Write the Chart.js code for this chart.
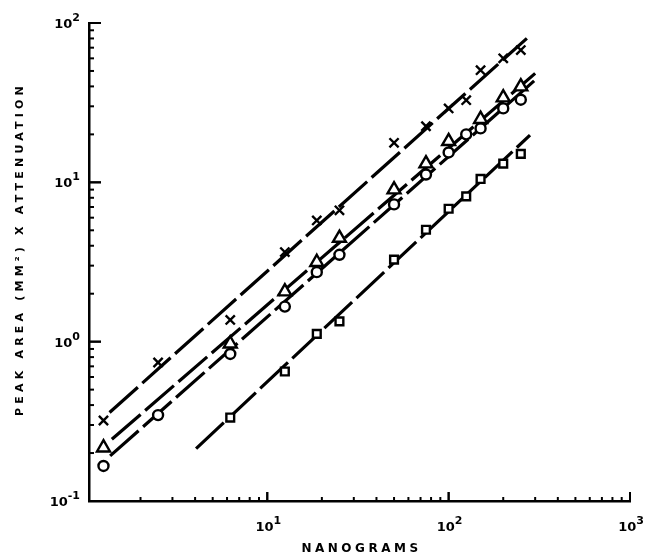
<!DOCTYPE html>
<html>
<head>
<meta charset="utf-8">
<script src="https://cdn.jsdelivr.net/npm/chart.js@4.4.1/dist/chart.umd.min.js"></script>
<style>
  html, body { margin: 0; padding: 0; background: #fff; }
  #wrap { width: 652px; height: 559px; }
</style>
</head>
<body>
<div id="wrap"><canvas id="c" width="652" height="559"></canvas></div>
<script>
// nanograms injected
const crossX = [1.25, 2.5, 6.25, 12.5, 18.75, 25, 50, 75, 100, 125, 150, 200, 250];
const crossY = [0.32, 0.74, 1.37, 3.65, 5.77, 6.67, 17.7, 22.5, 29.1, 32.8, 50.6, 60, 67.6];

const triX = [1.25, 6.25, 12.5, 18.75, 25, 50, 75, 100, 150, 200, 250];
const triY = [0.216, 0.97, 2.06, 3.15, 4.47, 9.0, 13.1, 18.1, 24.9, 34.0, 39.9];

const circX = [1.25, 2.5, 6.25, 12.5, 18.75, 25, 50, 75, 100, 125, 150, 200, 250];
const circY = [0.166, 0.346, 0.837, 1.66, 2.73, 3.51, 7.27, 11.2, 15.4, 20.0, 21.8, 29.1, 33.0];

const sqX = [6.25, 12.5, 18.75, 25, 50, 75, 100, 125, 150, 200, 250];
const sqY = [0.334, 0.65, 1.12, 1.34, 3.27, 5.04, 6.83, 8.17, 10.5, 13.1, 15.1];

// fitted lines (start, end)
const crossFitX = [1.35, 270];
const crossFitY = [0.359, 80.1];
const triFitX = [1.39, 300];
const triFitY = [0.244, 48.3];
const circFitX = [1.36, 300];
const circFitY = [0.192, 43.9];
const sqFitX = [4.05, 281];
const sqFitY = [0.213, 19.8];

// tick labels: base and exponent
const xTickVals = [10, 100, 1000];
const xTickExp = ['1', '2', '3'];
const yTickVals = [0.1, 1, 10, 100];
const yTickExp = ['-1', '0', '1', '2'];

const X_MIN = 1.04;

function pts(xs, ys) {
    return xs.map((x, i) => ({ x: x, y: ys[i] }));
}

function fitLine(xs, ys) {
    return {
        type: 'line',
        data: pts(xs, ys),
        borderColor: '#000',
        borderWidth: 3.2,
        borderDash: [38, 6],
        pointRadius: 0,
        fill: false,
        order: 2
    };
}

function marks(xs, ys, style, r) {
    return {
        type: 'scatter',
        data: pts(xs, ys),
        pointStyle: style,
        pointRadius: r,
        pointBorderWidth: 2.4,
        pointBorderColor: '#000',
        pointBackgroundColor: '#fff',
        order: 1
    };
}

function powerLabel(ctx, text, exp, x, y, align) {
    ctx.font = 'bold 13px "DejaVu Sans"';
    const w1 = ctx.measureText(text).width;
    ctx.font = 'bold 11px "DejaVu Sans"';
    const w2 = ctx.measureText(exp).width;
    let left = x;
    if (align === 'right') left = x - w1 - w2;
    if (align === 'center') left = x - (w1 + w2) / 2;
    ctx.textAlign = 'left';
    ctx.textBaseline = 'alphabetic';
    ctx.font = 'bold 13px "DejaVu Sans"';
    ctx.fillText(text, left, y + 5);
    ctx.font = 'bold 11px "DejaVu Sans"';
    ctx.fillText(exp, left + w1, y - 2);
}

// inner tick marks, tick labels and axis titles
const paperAxes = {
    id: 'paperAxes',
    afterDraw(chart) {
        const ctx = chart.ctx;
        const xs = chart.scales.x;
        const ys = chart.scales.y;
        const area = chart.chartArea;
        ctx.save();
        ctx.strokeStyle = '#000';
        ctx.lineWidth = 2;
        [1, 10, 100].forEach(d => {
            for (let k = 1; k <= 10; k++) {
                const v = k * d;
                if (v > 1000 || v < X_MIN) continue;
                const px = xs.getPixelForValue(v);
                const len = (k === 1 || k === 10) ? 9 : 4;
                ctx.beginPath();
                ctx.moveTo(px, area.bottom);
                ctx.lineTo(px, area.bottom - len);
                ctx.stroke();
            }
        });
        [0.1, 1, 10].forEach(d => {
            for (let k = 1; k <= 10; k++) {
                const v = k * d;
                const py = ys.getPixelForValue(v);
                const len = (k === 1 || k === 10) ? 12 : 5;
                ctx.beginPath();
                ctx.moveTo(area.left, py);
                ctx.lineTo(area.left + len, py);
                ctx.stroke();
            }
        });

        ctx.fillStyle = '#000';
        xTickVals.forEach((v, i) => {
            powerLabel(ctx, '10', xTickExp[i], xs.getPixelForValue(v) + 1, area.bottom + 25, 'center');
        });
        yTickVals.forEach((v, i) => {
            powerLabel(ctx, '10', yTickExp[i], area.left - 9, ys.getPixelForValue(v), 'right');
        });

        ctx.font = 'bold 12px "DejaVu Sans"';
        ctx.letterSpacing = '3.5px';
        ctx.textAlign = 'center';
        ctx.textBaseline = 'middle';
        ctx.fillText('NANOGRAMS', (area.left + area.right) / 2 + 2, 549);

        ctx.translate(20, 249);
        ctx.rotate(-Math.PI / 2);
        ctx.font = 'bold 11px "DejaVu Sans"';
        ctx.letterSpacing = '4.2px';
        ctx.fillText('PEAK AREA (MM²) X ATTENUATION', 0, 0);
        ctx.restore();
    }
};

new Chart(document.getElementById('c').getContext('2d'), {
    data: {
        datasets: [
            fitLine(crossFitX, crossFitY),
            fitLine(triFitX, triFitY),
            fitLine(circFitX, circFitY),
            fitLine(sqFitX, sqFitY),
            marks(crossX, crossY, 'crossRot', 6.5),
            marks(triX, triY, 'triangle', 7.5),
            marks(circX, circY, 'circle', 5),
            marks(sqX, sqY, 'rect', 5.5)
        ]
    },
    options: {
        responsive: false,
        animation: false,
        layout: { padding: { top: 23, right: 22, left: 0, bottom: 0 } },
        plugins: {
            legend: { display: false },
            tooltip: { enabled: false }
        },
        scales: {
            x: {
                type: 'logarithmic',
                min: X_MIN,
                max: 1000,
                afterFit(scale) { scale.height = 58; },
                grid: { display: true, drawOnChartArea: false, drawTicks: false },
                border: { display: true, color: '#000', width: 2.5 },
                ticks: { display: false }
            },
            y: {
                type: 'logarithmic',
                min: 0.1,
                max: 100,
                afterFit(scale) { scale.width = 89; },
                grid: { display: true, drawOnChartArea: false, drawTicks: false },
                border: { display: true, color: '#000', width: 2.5 },
                ticks: { display: false }
            }
        }
    },
    plugins: [paperAxes]
});
</script>
</body>
</html>
